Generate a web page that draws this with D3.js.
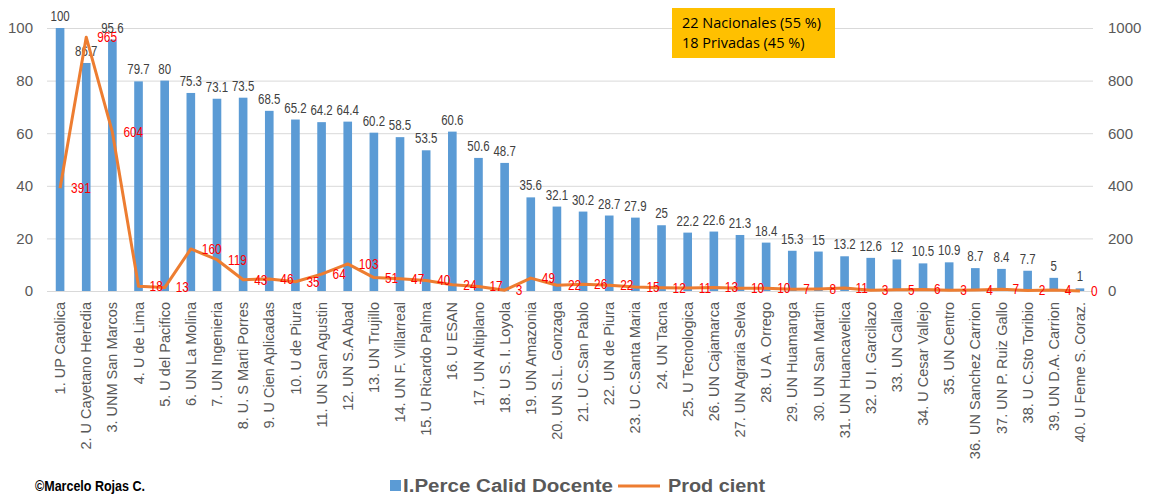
<!DOCTYPE html>
<html>
<head>
<meta charset="utf-8">
<script src="https://cdn.jsdelivr.net/npm/d3@7"></script>
<style>
	body { margin: 0; background: #fff; }
	svg { display: block; }
</style>
</head>
<body>
<div class="chart"></div>
<script>
	var width = 1149,
		height = 497;

	var categories = ["1. UP Catolica", "2. U Cayetano Heredia", "3. UNM San Marcos", "4. U de Lima",
		"5. U del Pacifico", "6. UN La Molina", "7. UN Ingenieria", "8. U. S Marti Porres",
		"9. U Cien Aplicadas", "10. U de Piura", "11. UN San Agustin", "12. UN S.A Abad",
		"13. UN Trujillo", "14. UN F. Villarreal", "15. U Ricardo Palma", "16. U ESAN",
		"17. UN Altiplano", "18. U S. I. Loyola", "19. UN Amazonia", "20. UN S.L. Gonzaga",
		"21. U C.San Pablo", "22. UN de Piura", "23. U C.Santa Maria", "24. UN Tacna",
		"25. U Tecnologica", "26. UN Cajamarca", "27. UN Agraria Selva", "28. U A. Orrego",
		"29. UN Huamanga", "30. UN San Martin", "31. UN Huancavelica", "32. U I. Garcilazo",
		"33. UN Callao", "34. U Cesar Vallejo", "35. UN Centro", "36. UN Sanchez Carrion",
		"37. UN P. Ruiz Gallo", "38. U C.Sto Toribio", "39. UN D.A. Carrion", "40. U Feme S. Coraz."];

	var calidad = [100, 86.7, 95.6, 79.7, 80, 75.3, 73.1, 73.5, 68.5, 65.2,
		64.2, 64.4, 60.2, 58.5, 53.5, 60.6, 50.6, 48.7, 35.6, 32.1,
		30.2, 28.7, 27.9, 25, 22.2, 22.6, 21.3, 18.4, 15.3, 15,
		13.2, 12.6, 12, 10.5, 10.9, 8.7, 8.4, 7.7, 5, 1];

	var prod = [391, 965, 604, 18, 13, 160, 119, 43, 46, 35,
		64, 103, 51, 47, 40, 24, 17, 3, 49, 22,
		26, 22, 15, 12, 11, 13, 10, 10, 7, 8,
		11, 3, 5, 6, 3, 4, 7, 2, 4, 0];

	var leftTicks = [0, 20, 40, 60, 80, 100],
		rightTicks = [0, 200, 400, 600, 800, 1000];

	var note = ["22 Nacionales (55 %)", "18 Privadas (45 %)"];

	var x = d3.scaleBand()
		.domain(categories)
		.range([47, 1093])
		.paddingInner(0.67)
		.paddingOuter(0.335);

	var y = d3.scaleLinear().domain([0, 100]).range([291, 28]),
		y2 = d3.scaleLinear().domain([0, 1000]).range([291, 28]);

	var cx = function(d) { return x(d) + x.bandwidth() / 2; };

	var numFont = "14px 'Liberation Sans', Arial, sans-serif";

	var svg = d3.select(".chart").append("svg")
		.attr("width", width)
		.attr("height", height);

	// gridlines
	svg.append("g")
		.call(d3.axisLeft(y).tickValues(leftTicks).tickSize(-(1093 - 47)).tickFormat(""))
		.attr("transform", "translate(47,0)")
		.call(function(g) {
			g.select(".domain").remove();
			g.selectAll("line").attr("stroke", "#d9d9d9").attr("stroke-width", 1);
		});

	// left axis labels
	svg.append("g")
		.attr("transform", "translate(33,0)")
		.call(d3.axisLeft(y).tickValues(leftTicks).tickSize(0).tickPadding(0))
		.call(function(g) {
			g.select(".domain").remove();
			g.selectAll("text").attr("fill", "#595959")
				.style("font", "15px 'Liberation Sans', Arial, sans-serif");
		});

	// right axis labels
	svg.append("g")
		.attr("transform", "translate(1108,0)")
		.call(d3.axisRight(y2).tickValues(rightTicks).tickFormat(d3.format("d")).tickSize(0).tickPadding(0))
		.call(function(g) {
			g.select(".domain").remove();
			g.selectAll("text").attr("fill", "#595959")
				.style("font", "15px 'Liberation Sans', Arial, sans-serif");
		});

	// bars
	svg.append("g").selectAll("rect")
		.data(categories)
		.enter().append("rect")
		.attr("x", function(d) { return x(d); })
		.attr("width", x.bandwidth())
		.attr("y", function(d, i) { return y(calidad[i]); })
		.attr("height", function(d, i) { return y(0) - y(calidad[i]); })
		.attr("fill", "#5B9BD5");

	svg.append("g").selectAll("text")
		.data(categories)
		.enter().append("text")
		.attr("transform", function(d, i) {
			return "translate(" + cx(d) + "," + (y(calidad[i]) - 7) + ") scale(0.82,1)";
		})
		.attr("text-anchor", "middle")
		.attr("fill", "#404040")
		.style("font", numFont)
		.text(function(d, i) { return calidad[i]; });

	// x labels
	svg.append("g").selectAll("text")
		.data(categories)
		.enter().append("text")
		.attr("transform", function(d) { return "translate(" + cx(d) + ",302) rotate(-90)"; })
		.attr("dy", "0.35em")
		.attr("text-anchor", "end")
		.attr("fill", "#595959")
		.style("font", "14.5px 'Liberation Sans', Arial, sans-serif")
		.text(function(d) { return d; });

	// line
	var line = d3.line()
		.x(function(d, i) { return cx(categories[i]); })
		.y(function(d) { return y2(d); });

	svg.append("path")
		.datum(prod)
		.attr("d", line)
		.attr("fill", "none")
		.attr("stroke", "#ED7D31")
		.attr("stroke-width", 3)
		.attr("stroke-linejoin", "round");

	svg.append("g").selectAll("text")
		.data(prod)
		.enter().append("text")
		.attr("transform", function(d, i) {
			return "translate(" + (cx(categories[i]) + 11) + "," + y2(d) + ") scale(0.85,1)";
		})
		.attr("dy", "0.35em")
		.attr("fill", "#FF0000")
		.style("font", numFont)
		.text(function(d) { return d; });

	// note box
	svg.append("rect")
		.attr("x", 672).attr("y", 8)
		.attr("width", 163).attr("height", 50)
		.attr("fill", "#FFC000");

	svg.append("g").selectAll("text")
		.data(note)
		.enter().append("text")
		.attr("x", 682)
		.attr("y", function(d, i) { return 23 + i * 20; })
		.attr("dy", "0.35em")
		.attr("fill", "#000")
		.style("font", "14.5px 'Open Sans', sans-serif")
		.text(function(d) { return d; });

	// legend
	var legend = svg.append("g").style("font", "bold 18px 'Liberation Sans', Arial, sans-serif");
	legend.append("rect").attr("x", 390).attr("y", 480).attr("width", 11).attr("height", 11).attr("fill", "#5B9BD5");
	legend.append("text").attr("x", 403).attr("y", 486).attr("dy", "0.35em").attr("fill", "#595959")
		.attr("textLength", 210).attr("lengthAdjust", "spacingAndGlyphs")
		.text("I.Perce Calid Docente");
	legend.append("line").attr("x1", 618).attr("x2", 660).attr("y1", 486).attr("y2", 486)
		.attr("stroke", "#ED7D31").attr("stroke-width", 3);
	legend.append("text").attr("x", 668).attr("y", 486).attr("dy", "0.35em").attr("fill", "#595959")
		.attr("textLength", 97).attr("lengthAdjust", "spacingAndGlyphs")
		.text("Prod cient");

	svg.append("text")
		.attr("x", 35).attr("y", 486).attr("dy", "0.35em")
		.attr("fill", "#000")
		.attr("textLength", 110).attr("lengthAdjust", "spacingAndGlyphs")
		.style("font", "bold 14px 'Liberation Sans', Arial, sans-serif")
		.text("©Marcelo Rojas C.");
</script>
</body>
</html>
